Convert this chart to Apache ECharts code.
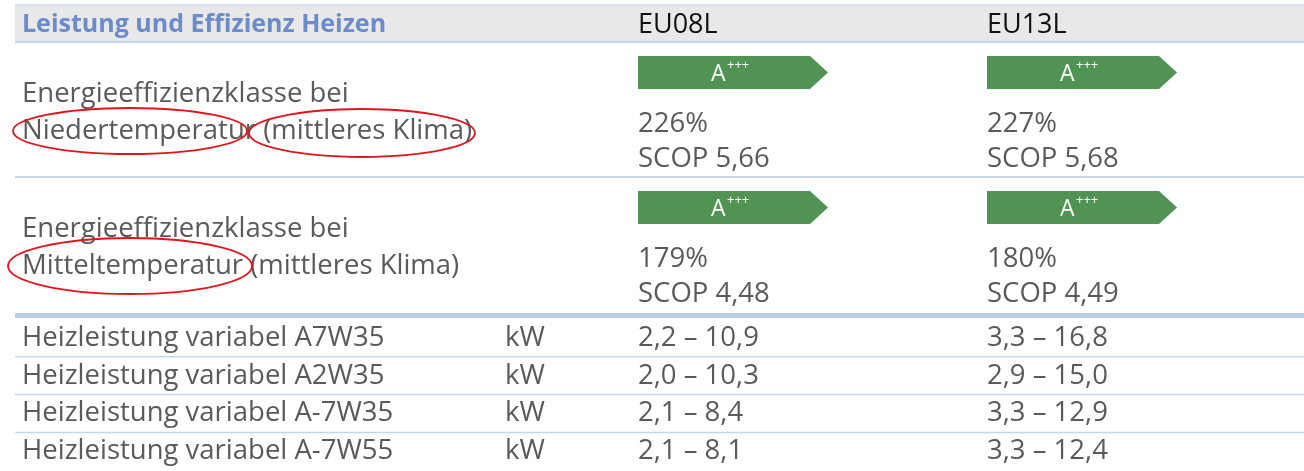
<!DOCTYPE html>
<html>
<head>
<meta charset="utf-8">
<script src="https://cdn.jsdelivr.net/npm/echarts@6/dist/echarts.min.js"></script>
<style>
  html, body { margin: 0; padding: 0; background: #fff; }
  #chart { width: 1304px; height: 471px; }
</style>
</head>
<body>
<div id="chart"></div>
<script>
// Tabellendaten
const title = 'Leistung und Effizienz Heizen'
const models = ['EU08L', 'EU13L']
const effLabels = [
  ['Energieeffizienzklasse bei', 'Niedertemperatur (mittleres Klima)'],
  ['Energieeffizienzklasse bei', 'Mitteltemperatur (mittleres Klima)']
]
const effClass = [['A', 'A'], ['A', 'A']]
const effPlus = [['+++', '+++'], ['+++', '+++']]
const effPercent = [[226, 227], [179, 180]]
const effScop = [[5.66, 5.68], [4.48, 4.49]]
const capLabels = [
  'Heizleistung variabel A7W35',
  'Heizleistung variabel A2W35',
  'Heizleistung variabel A-7W35',
  'Heizleistung variabel A-7W55'
]
const capUnit = 'kW'
const capMin = [[2.2, 3.3], [2.0, 2.9], [2.1, 3.3], [2.1, 3.3]]
const capMax = [[10.9, 16.8], [10.3, 15.0], [8.4, 12.9], [8.1, 12.4]]

// Layout
const W = 1304
const H = 471
const FONT = '"Open Sans", sans-serif'
const GRAY = '#5a5a5a'
const BODY = '27.5px ' + FONT
const colLabel = 22
const colUnit = 505
const colModel = [638, 987]
const headTop = 5
const headBottom = 42
const effTop = [42, 177]
const effHeight = 135
const capTop = 319
const capPitch = 37.8
const ellipses = [
  [{ cx: 130, cy: 131, rx: 117, ry: 23 }, { cx: 362, cy: 133, rx: 113, ry: 24 }],
  [{ cx: 130, cy: 266, rx: 122, ry: 28 }]
]

const fmt = (v) => v.toFixed(1).replace('.', ',')
const fmt2 = (v) => v.toFixed(2).replace('.', ',')

const chart = echarts.init(document.getElementById('chart'))

function txt (api, x, y, text, style) {
  const p = api.coord([x, y])
  return {
    type: 'text',
    x: p[0],
    y: p[1],
    style: Object.assign({
      text: text,
      fill: GRAY,
      font: BODY,
      verticalAlign: 'middle',
      align: 'left'
    }, style || {})
  }
}

function line (api, y, width, color) {
  const a = api.coord([15, y])
  const b = api.coord([W, y])
  return {
    type: 'line',
    shape: { x1: a[0], y1: a[1], x2: b[0], y2: b[1] },
    style: { stroke: color, lineWidth: width }
  }
}

// Kopfzeile
function renderHeader (params, api) {
  const a = api.coord([15, headTop])
  const b = api.coord([W, headBottom])
  const children = [
    { type: 'rect', shape: { x: a[0], y: a[1], width: b[0] - a[0], height: b[1] - a[1] }, style: { fill: '#e8e8e8' } },
    line(api, headTop, 1.5, '#cfdaee'),
    line(api, headBottom, 2, '#c6d4ec'),
    txt(api, colLabel, 25, title, { fill: '#6b8bcb', font: 'bold 25px ' + FONT })
  ]
  models.forEach((m, i) => {
    children.push(txt(api, colModel[i], 25, m, { fill: '#111', font: '27px ' + FONT }))
  })
  return { type: 'group', children: children }
}

// Effizienzzeilen
function renderEff (params, api) {
  const r = api.value(0)
  const top = effTop[r]
  const children = []
  children.push(txt(api, colLabel, top + 52, effLabels[r][0]))
  children.push(txt(api, colLabel, top + 89, effLabels[r][1]))
  models.forEach((m, i) => {
    const x = colModel[i]
    const p0 = api.coord([x, top + 14])
    const p1 = api.coord([x + 172, top + 14])
    const p2 = api.coord([x + 190, top + 30.5])
    const p3 = api.coord([x + 172, top + 47])
    const p4 = api.coord([x, top + 47])
    children.push({
      type: 'polygon',
      shape: { points: [p0, p1, p2, p3, p4] },
      style: { fill: '#509352' }
    })
    children.push(txt(api, x + 73, top + 32, effClass[r][i], { fill: '#fff', font: '23px ' + FONT }))
    children.push(txt(api, x + 89, top + 23, effPlus[r][i], { fill: '#fff', font: '13px ' + FONT }))
    children.push(txt(api, x, top + 82, effPercent[r][i] + '%'))
    children.push(txt(api, x, top + 117, 'SCOP ' + fmt2(effScop[r][i])))
  })
  ellipses[r].forEach((e) => {
    const c = api.coord([e.cx, e.cy])
    children.push({
      type: 'ellipse',
      shape: { cx: c[0], cy: c[1], rx: e.rx, ry: e.ry },
      style: { fill: null, stroke: '#e3131b', lineWidth: 1.8 }
    })
  })
  if (r === 0) {
    children.push(line(api, top + effHeight, 2, '#c6d4ec'))
  } else {
    children.push(line(api, top + effHeight + 3.5, 5, '#b9cce6'))
  }
  return { type: 'group', children: children }
}

// Heizleistungszeilen
function renderCap (params, api) {
  const r = api.value(0)
  const top = capTop + r * capPitch
  const cy = top + 19
  const children = []
  children.push(txt(api, colLabel, cy, capLabels[r]))
  children.push(txt(api, colUnit, cy, capUnit))
  models.forEach((m, i) => {
    children.push(txt(api, colModel[i], cy, fmt(capMin[r][i]) + ' \u2013 ' + fmt(capMax[r][i])))
  })
  if (r < capLabels.length - 1) {
    children.push(line(api, top + capPitch, 1.5, '#c6d4ec'))
  }
  return { type: 'group', children: children }
}

const option = {
  backgroundColor: '#fff',
  animation: false,
  grid: { left: 0, right: 0, top: 0, bottom: 0 },
  xAxis: { type: 'value', min: 0, max: W, show: false },
  yAxis: { type: 'value', min: 0, max: H, inverse: true, show: false },
  series: [
    { type: 'custom', renderItem: renderHeader, data: [[0]], silent: true },
    { type: 'custom', renderItem: renderEff, data: effLabels.map((v, i) => [i]), silent: true },
    { type: 'custom', renderItem: renderCap, data: capLabels.map((v, i) => [i]), silent: true }
  ]
}

chart.setOption(option)
</script>
</body>
</html>
